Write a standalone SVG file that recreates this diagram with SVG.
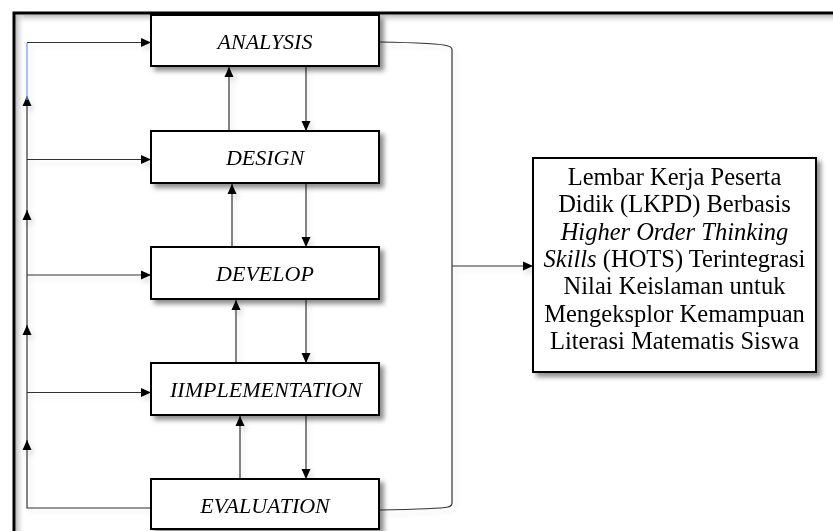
<svg xmlns="http://www.w3.org/2000/svg" width="833" height="531" viewBox="0 0 833 531">
<defs>
<style>
.box{fill:#fff;stroke:#000;stroke-width:2}
.lbl{font-family:"Liberation Serif","Times New Roman",serif;font-style:italic;font-size:22px;fill:#000;text-anchor:middle}
.res{font-family:"Liberation Serif","Times New Roman",serif;font-size:24.5px;fill:#000;text-anchor:middle}
.ln{fill:none;stroke:#333;stroke-width:1.2}
</style>
<filter id="sh" x="-10%" y="-20%" width="130%" height="160%">
<feDropShadow dx="4" dy="4" stdDeviation="2.5" flood-color="#000" flood-opacity="0.45"/>
</filter>
<filter id="lsh" x="-10%" y="-10%" width="130%" height="130%">
<feDropShadow dx="3" dy="4" stdDeviation="2.5" flood-color="#000" flood-opacity="0.12"/>
</filter>
<marker id="ah" viewBox="0 0 10 10" refX="10" refY="5" markerWidth="10" markerHeight="10" markerUnits="userSpaceOnUse" orient="auto">
<path d="M0,0.5 L10,5 L0,9.5 Z" fill="#000"/>
</marker>
<linearGradient id="gt" x1="0" y1="0" x2="0" y2="1">
<stop offset="0" stop-color="#b8b8b8"/>
<stop offset="1" stop-color="#fff" stop-opacity="0"/>
</linearGradient>
<linearGradient id="gl" x1="0" y1="0" x2="1" y2="0">
<stop offset="0" stop-color="#b8b8b8"/>
<stop offset="1" stop-color="#fff" stop-opacity="0"/>
</linearGradient>
</defs>
<rect width="833" height="531" fill="#fff"/>
<g id="frame">
<rect x="15.5" y="14.5" width="818" height="10" fill="url(#gt)"/>
<rect x="15.5" y="14.5" width="10" height="517" fill="url(#gl)"/>
<path d="M14,531 V13 H833" fill="none" stroke="#000" stroke-width="3"/>
</g>
<g id="connectors" filter="url(#lsh)">
<line class="ln" x1="306" y1="66" x2="306" y2="131" marker-end="url(#ah)"/>
<line class="ln" x1="306" y1="183" x2="306" y2="247" marker-end="url(#ah)"/>
<line class="ln" x1="306" y1="299" x2="306" y2="363" marker-end="url(#ah)"/>
<line class="ln" x1="306" y1="415" x2="306" y2="479" marker-end="url(#ah)"/>
<line class="ln" x1="229" y1="131" x2="229" y2="67" marker-end="url(#ah)"/>
<line class="ln" x1="232" y1="247" x2="232" y2="184" marker-end="url(#ah)"/>
<line class="ln" x1="236" y1="363" x2="236" y2="300" marker-end="url(#ah)"/>
<line class="ln" x1="240" y1="479" x2="240" y2="416" marker-end="url(#ah)"/>
<path class="ln" d="M151,508 H27 V100"/>
<line class="ln" x1="27" y1="450" x2="27" y2="440" marker-end="url(#ah)"/>
<line class="ln" x1="27" y1="335" x2="27" y2="325" marker-end="url(#ah)"/>
<line class="ln" x1="27" y1="220" x2="27" y2="210" marker-end="url(#ah)"/>
<line class="ln" x1="27" y1="105" x2="27" y2="96" marker-end="url(#ah)"/>
<path d="M27,100 V42.5" fill="none" stroke="#6f9be8" stroke-width="1.2"/>
<path class="ln" d="M27,42.5 H151" marker-end="url(#ah)"/>
<line class="ln" x1="27" y1="159.5" x2="151" y2="159.5" marker-end="url(#ah)"/>
<line class="ln" x1="27" y1="275" x2="151" y2="275" marker-end="url(#ah)"/>
<line class="ln" x1="27" y1="392.5" x2="151" y2="392.5" marker-end="url(#ah)"/>
<path class="ln" d="M379,42 Q440,43 448,46 Q452,47 452,50 V503 Q452,506 448,507 Q440,509 379,510"/>
<line class="ln" x1="452" y1="266" x2="533" y2="266" marker-end="url(#ah)"/>
</g>
<g id="analysis" filter="url(#sh)">
<rect class="box" x="151" y="15" width="228" height="51"/>
<text class="lbl" x="265" y="49">ANALYSIS</text>
</g>
<g id="design" filter="url(#sh)">
<rect class="box" x="151" y="131" width="228" height="52"/>
<text class="lbl" x="265" y="165">DESIGN</text>
</g>
<g id="develop" filter="url(#sh)">
<rect class="box" x="151" y="247" width="228" height="52"/>
<text class="lbl" x="265" y="281">DEVELOP</text>
</g>
<g id="implementation" filter="url(#sh)">
<rect class="box" x="151" y="363" width="228" height="52"/>
<text class="lbl" x="266" y="397">IIMPLEMENTATION</text>
</g>
<g id="evaluation" filter="url(#sh)">
<rect class="box" x="151" y="479" width="228" height="50"/>
<text class="lbl" x="265" y="513">EVALUATION</text>
</g>
<g id="result" filter="url(#sh)">
<rect class="box" x="533" y="158" width="283" height="214"/>
<text class="res" x="674.5" y="185">Lembar Kerja Peserta</text>
<text class="res" x="674.5" y="212.3">Didik (LKPD) Berbasis</text>
<text class="res" x="674.5" y="239.6" font-style="italic">Higher Order Thinking</text>
<text class="res" x="674.5" y="266.9"><tspan font-style="italic">Skills</tspan> (HOTS) Terintegrasi</text>
<text class="res" x="674.5" y="294.2">Nilai Keislaman untuk</text>
<text class="res" x="674.5" y="321.5">Mengeksplor Kemampuan</text>
<text class="res" x="674.5" y="348.8">Literasi Matematis Siswa</text>
</g>
</svg>
